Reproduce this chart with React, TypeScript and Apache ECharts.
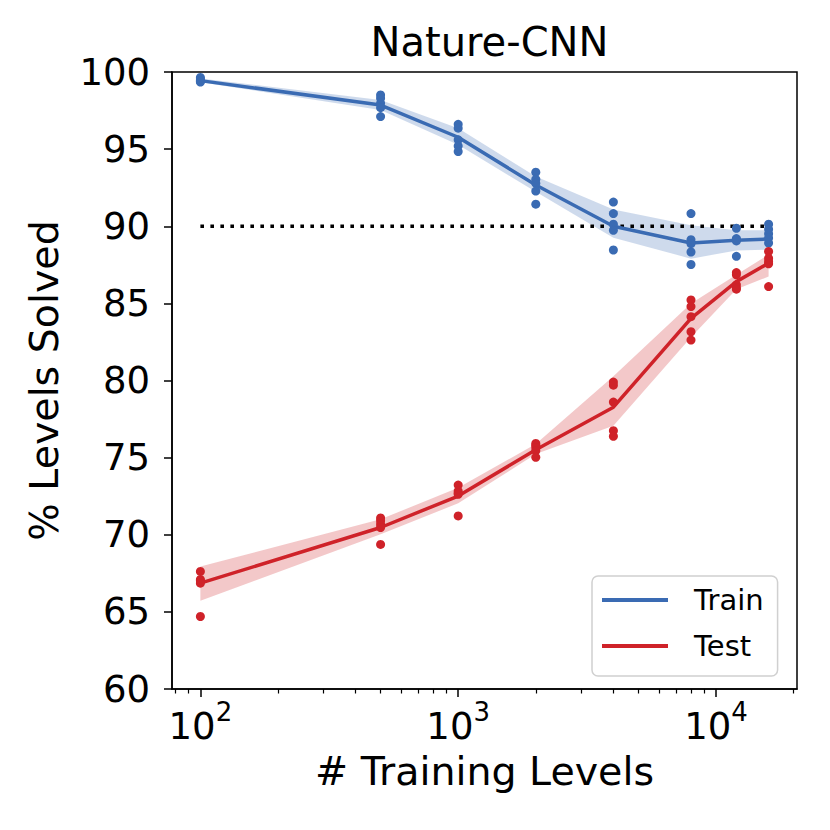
import React, { useEffect, useRef } from "react";
import * as echarts from "echarts";

const FONT = "DejaVu Sans";

const trainingLevels = [100, 500, 1000, 2000, 4000, 8000, 12000, 16000];

const trainMean = [99.44, 97.86, 95.77, 92.67, 90.0, 88.91, 89.09, 89.17];
const trainLow = [99.33, 97.54, 95.28, 92.23, 89.26, 87.9, 88.43, 88.48];
const trainHigh = [99.58, 98.19, 96.36, 93.22, 91.09, 90.06, 89.74, 89.74];
const trainRuns = [
  [99.65, 99.55, 99.45, 99.4, 99.35],
  [98.51, 98.3, 97.97, 97.69, 97.11],
  [96.61, 96.36, 95.6, 95.21, 94.84],
  [93.5, 93.04, 92.78, 92.28, 91.43],
  [91.57, 90.82, 90.13, 89.74, 88.46],
  [90.82, 89.13, 88.87, 88.33, 87.52],
  [89.87, 89.2, 89.13, 89.05, 88.05],
  [90.13, 89.81, 89.52, 89.24, 88.91],
];

const testMean = [66.86, 70.47, 72.51, 75.51, 78.27, 84.03, 86.41, 87.61];
const testLow = [65.72, 70.03, 72.04, 75.23, 77.07, 82.8, 85.92, 86.74];
const testHigh = [67.94, 71.0, 73.05, 75.88, 80.27, 85.0, 86.85, 88.16];
const testRuns = [
  [67.62, 67.1, 67.01, 66.86, 64.7],
  [71.09, 70.9, 70.68, 70.47, 69.37],
  [73.22, 72.83, 72.7, 72.62, 71.22],
  [75.92, 75.8, 75.66, 75.45, 75.02],
  [79.9, 79.7, 78.6, 76.75, 76.38],
  [85.22, 84.79, 84.14, 83.16, 82.62],
  [87.0, 86.85, 86.2, 86.0, 85.92],
  [88.37, 87.93, 87.72, 87.57, 86.09],
];

const thresholdLevel = 90;
const xMajorTicks = [100, 1000, 10000];
const xMinorTicks = [80, 90, 200, 300, 400, 500, 600, 700, 800, 900, 2000, 3000, 4000, 5000, 6000, 7000, 8000, 9000, 20000];

const BLUE = "#3a6bb3";
const RED = "#cf2229";

function bandSeries(low: number[], high: number[], color: string) {
  return {
    type: "custom",
    silent: true,
    z: 1,
    data: trainingLevels.map((x, i) => [x, low[i], high[i]]),
    encode: { x: 0, y: [1, 2] },
    renderItem: (params: any, api: any) => {
      if (params.dataIndex !== 0) return null;
      const upper = trainingLevels.map((x, i) => api.coord([x, high[i]]));
      const lower = trainingLevels.map((x, i) => api.coord([x, low[i]])).reverse();
      return {
        type: "polygon",
        shape: { points: upper.concat(lower) },
        style: { fill: color, opacity: 0.25 },
      };
    },
  };
}

function runsData(runs: number[][]) {
  const out: number[][] = [];
  runs.forEach((vals, i) => vals.forEach((v) => out.push([trainingLevels[i], v])));
  return out;
}

export default function App() {
  const ref = useRef<HTMLDivElement>(null);
  useEffect(() => {
    if (!ref.current) return;
    const chart = echarts.init(ref.current, null, { renderer: "svg" });
    const xCommon = {
      type: "log",
      logBase: 10,
      min: 77.6,
      max: 20620,
      splitLine: { show: false },
    };
    chart.setOption({
      animation: false,
      backgroundColor: "#fff",
      title: {
        text: "Nature-CNN",
        left: 484.5,
        textAlign: "center",
        top: 17,
        textStyle: { fontFamily: FONT, fontSize: 40, fontWeight: "normal", color: "#000" },
      },
      legend: {
        orient: "vertical",
        left: 592,
        top: 576,
        data: ["Train", "Test"],
        icon: "rect",
        itemWidth: 66,
        itemHeight: 4,
        itemGap: 12,
        padding: [7, 14, 13, 10],
        backgroundColor: "#fff",
        borderColor: "#d0d0d0",
        borderWidth: 1.5,
        borderRadius: 6,
        textStyle: {
          fontFamily: FONT,
          fontSize: 29,
          color: "#000",
          lineHeight: 34,
          padding: [0, 0, 0, 21],
        },
      },
      grid: {
        left: 172,
        top: 72,
        width: 625,
        height: 617,
        show: true,
        borderColor: "#000",
        borderWidth: 1.5,
        backgroundColor: "transparent",
      },
      xAxis: [
        {
          ...xCommon,
          name: "# Training Levels",
          nameLocation: "middle",
          nameGap: 62,
          nameTextStyle: { fontFamily: FONT, fontSize: 39.5, color: "#000" },
          axisLine: { show: true, lineStyle: { color: "#000", width: 1.5 } },
          axisTick: { show: true, length: 8, customValues: xMajorTicks, lineStyle: { color: "#000", width: 1.5 } },
          axisLabel: {
            customValues: xMajorTicks,
            margin: 10,
            formatter: (v: number) => `{b|10}{s|${Math.round(Math.log10(v))}}`,
            rich: {
              b: { fontFamily: FONT, fontSize: 37, color: "#000", lineHeight: 46, verticalAlign: "bottom" },
              s: { fontFamily: FONT, fontSize: 26, color: "#000", lineHeight: 30, verticalAlign: "top" },
            },
          },
        },
        {
          ...xCommon,
          position: "bottom",
          axisLine: { show: false },
          axisTick: { show: true, length: 4.5, customValues: xMinorTicks, lineStyle: { color: "#000", width: 1.2 } },
          axisLabel: { show: false },
        },
      ],
      yAxis: {
        type: "value",
        min: 60,
        max: 100,
        interval: 5,
        name: "% Levels Solved",
        nameLocation: "middle",
        nameGap: 108,
        nameTextStyle: { fontFamily: FONT, fontSize: 39.5, color: "#000" },
        splitLine: { show: false },
        axisLine: { show: true, lineStyle: { color: "#000", width: 1.5 } },
        axisTick: { show: true, length: 8, lineStyle: { color: "#000", width: 1.5 } },
        axisLabel: { fontFamily: FONT, fontSize: 37, color: "#000", margin: 22 },
      },
      series: [
        bandSeries(trainLow, trainHigh, BLUE),
        bandSeries(testLow, testHigh, RED),
        {
          type: "line",
          name: "threshold",
          silent: true,
          z: 2,
          symbol: "none",
          data: [
            [trainingLevels[0], thresholdLevel],
            [trainingLevels[trainingLevels.length - 1], thresholdLevel],
          ],
          lineStyle: { color: "#000", width: 3.6, type: [3.6, 6.4], cap: "butt" },
        },
        {
          type: "line",
          name: "Train",
          z: 3,
          symbol: "none",
          color: BLUE,
          data: trainingLevels.map((x, i) => [x, trainMean[i]]),
          lineStyle: { color: BLUE, width: 3.5 },
        },
        {
          type: "line",
          name: "Test",
          z: 3,
          symbol: "none",
          color: RED,
          data: trainingLevels.map((x, i) => [x, testMean[i]]),
          lineStyle: { color: RED, width: 3.5 },
        },
        {
          type: "scatter",
          name: "Train runs",
          z: 4,
          symbolSize: 9,
          itemStyle: { color: BLUE, opacity: 1 },
          data: runsData(trainRuns),
        },
        {
          type: "scatter",
          name: "Test runs",
          z: 4,
          symbolSize: 9,
          itemStyle: { color: RED, opacity: 1 },
          data: runsData(testRuns),
        },
      ],
    });
    return () => chart.dispose();
  }, []);
  return (
    <div
      ref={ref}
      style={{ position: "absolute", left: 0, top: 0, width: 830, height: 830, background: "#fff" }}
    />
  );
}
